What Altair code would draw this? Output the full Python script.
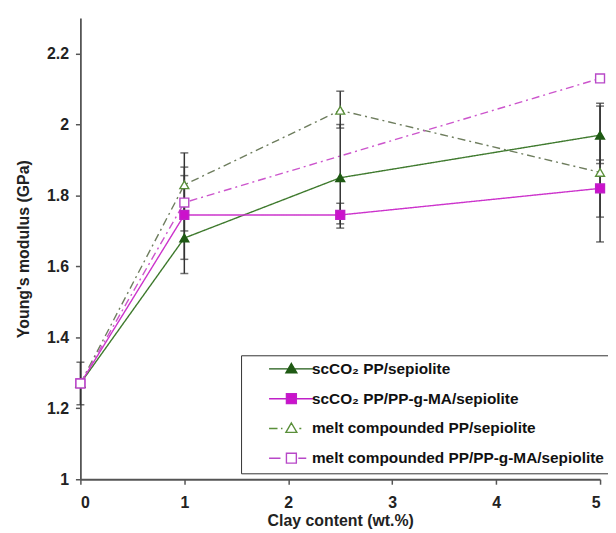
import altair as alt
import pandas as pd

# ---- data ----
series_names = [
    "scCO\u2082 PP/sepiolite",
    "scCO\u2082 PP/PP-g-MA/sepiolite",
    "melt compounded PP/sepiolite",
    "melt compounded PP/PP-g-MA/sepiolite",
]
x_sc_pp = [0, 1, 2.5, 5]
y_sc_pp = [1.27, 1.68, 1.85, 1.97]
x_sc_ma = [0, 1, 2.5, 5]
y_sc_ma = [1.27, 1.745, 1.745, 1.82]
x_melt_pp = [0, 1, 2.5, 5]
y_melt_pp = [1.27, 1.83, 2.04, 1.865]
x_melt_ma = [0, 1, 5]
y_melt_ma = [1.27, 1.78, 2.13]

# error bars (clay content, lower, upper)
err_x = [0, 1, 1, 1, 1, 2.5, 2.5, 2.5, 5, 5, 5]
err_lo = [1.21, 1.58, 1.62, 1.70, 1.74, 1.708, 1.72, 1.99, 1.739, 1.89, 1.669]
err_hi = [1.33, 1.78, 1.88, 1.856, 1.92, 2.0, 1.778, 2.094, 1.90, 2.052, 2.06]

y_ticks = [1, 1.2, 1.4, 1.6, 1.8, 2, 2.2]
x_ticks = [0, 1, 2, 3, 4, 5]

# ---- styles ----
line_colors = ["#3f7a2e", "#cc33cc", "#6e7d5e", "#cc55cc"]
stroke_colors = ["#1f5a14", "#c020c8", "#5a8f3a", "#b848c8"]
fill_colors = ["#1f5a14", "#cc11cc", "#ffffff", "#ffffff"]
dashes = [[1, 0], [1, 0], [8, 4, 2, 4], [8, 4, 2, 4]]
marker_shapes = ["triangle-up", "square", "triangle-up", "square"]
legend_paths = [
    "M-4.5,0H4.5M0,-1.1L1.1,0.8L-1.1,0.8Z",
    "M-4.5,0H4.5M-1,-1H1V1H-1Z",
    "M-4.5,0H-2.8M-2.1,0H-1.8M1.6,0H2M0,-1.1L1.1,0.8L-1.1,0.8Z",
    "M-4.5,0H-2.2M1.4,0H3M-1,-1H1V1H-1Z",
]

rows = []
for name, xs, ys in zip(series_names,
                        [x_sc_pp, x_sc_ma, x_melt_pp, x_melt_ma],
                        [y_sc_pp, y_sc_ma, y_melt_pp, y_melt_ma]):
    for xv, yv in zip(xs, ys):
        rows.append({"series": name, "x": xv, "y": yv})
df = pd.DataFrame(rows)
err_df = pd.DataFrame({"x": err_x, "lo": err_lo, "hi": err_hi})

xscale = alt.Scale(domain=[0, 5], nice=False, zero=False)
yscale = alt.Scale(domain=[1, 2.3], nice=False, zero=False)

X = alt.X("x:Q", scale=xscale,
          axis=alt.Axis(values=x_ticks, title="Clay content (wt.%)", format="~g",
                        labelPadding=10, titlePadding=3))
Y = alt.Y("y:Q", scale=yscale,
          axis=alt.Axis(values=y_ticks, title="Young's modulus (GPa)", format="~g",
                        labelPadding=7, titlePadding=15))

lines = alt.Chart(df).mark_line(strokeWidth=1.4).encode(
    x=X, y=Y,
    color=alt.Color("series:N", scale=alt.Scale(domain=series_names, range=line_colors), legend=None),
    strokeDash=alt.StrokeDash("series:N", scale=alt.Scale(domain=series_names, range=dashes), legend=None),
)

err_rule = alt.Chart(err_df).mark_rule(color="#333333", strokeWidth=1.5).encode(
    x=alt.X("x:Q", scale=xscale), y=alt.Y("lo:Q", scale=yscale), y2="hi:Q")
err_lo_tick = alt.Chart(err_df).mark_tick(color="#333333", orient="horizontal", size=8, thickness=1.5).encode(
    x=alt.X("x:Q", scale=xscale), y=alt.Y("lo:Q", scale=yscale))
err_hi_tick = alt.Chart(err_df).mark_tick(color="#333333", orient="horizontal", size=8, thickness=1.5).encode(
    x=alt.X("x:Q", scale=xscale), y=alt.Y("hi:Q", scale=yscale))

points = alt.Chart(df).mark_point(size=80, strokeWidth=1.4, opacity=1, fillOpacity=1).encode(
    x=alt.X("x:Q", scale=xscale), y=alt.Y("y:Q", scale=yscale),
    shape=alt.Shape("series:N", scale=alt.Scale(domain=series_names, range=marker_shapes), legend=None),
    fill=alt.Fill("series:N", scale=alt.Scale(domain=series_names, range=fill_colors), legend=None),
    stroke=alt.Stroke("series:N", scale=alt.Scale(domain=series_names, range=stroke_colors), legend=None),
)

leg = alt.Legend(title=None, orient="none", legendX=162, legendY=340,
                 strokeColor="#333333", padding=6, symbolOffset=37, labelOffset=13,
                 rowPadding=12, symbolStrokeWidth=1.4,
                 labelFont="Liberation Sans", labelFontWeight="bold", labelFontSize=15.5,
                 labelColor="#111111", labelLimit=400)

legend_layer = alt.Chart(df).transform_filter("datum.x < 0").mark_point(
    size=80, strokeWidth=1.4, opacity=1, fillOpacity=1).encode(
    x=alt.X("x:Q", scale=xscale), y=alt.Y("y:Q", scale=yscale),
    shape=alt.Shape("series:N", scale=alt.Scale(domain=series_names, range=legend_paths), legend=leg),
    fill=alt.Fill("series:N", scale=alt.Scale(domain=series_names, range=fill_colors), legend=leg),
    stroke=alt.Stroke("series:N", scale=alt.Scale(domain=series_names, range=stroke_colors), legend=leg),
)

chart = alt.layer(lines, err_rule, err_lo_tick, err_hi_tick, points, legend_layer).resolve_scale(
    shape="independent", fill="independent", stroke="independent"
).properties(
    width=524, height=465,
    autosize=alt.AutoSizeParams(type="none"),
    padding={"left": 73, "top": 8, "right": 8, "bottom": 52},
).configure_view(stroke=None).configure_axis(
    grid=False, domainColor="#555555", domainWidth=1.8, tickColor="#555555", tickWidth=1.5,
    tickSize=5, labelFont="Liberation Sans", labelFontWeight="bold", labelFontSize=16,
    labelColor="#222222", titleFont="Liberation Sans", titleFontWeight="bold",
    titleFontSize=16, titleColor="#222222",
)

chart.save("out.html", embed_options={"renderer": "svg", "actions": False})
